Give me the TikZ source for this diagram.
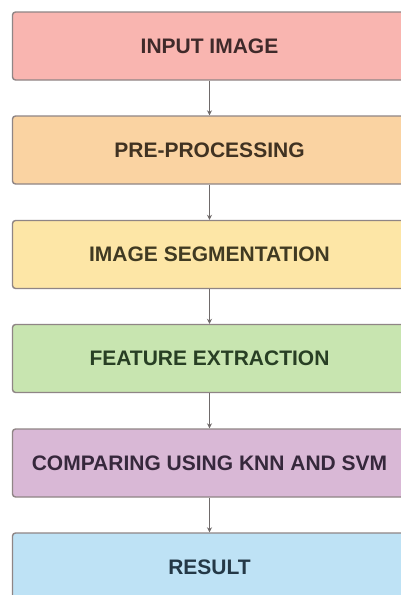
\documentclass[tikz,border=0pt]{standalone}
\usepackage{fontspec}
\setmainfont{Liberation Sans}
\usetikzlibrary{arrows.meta}
\definecolor{pinkfill}{HTML}{F9B5B0}
\definecolor{orangefill}{HTML}{FAD3A2}
\definecolor{yellowfill}{HTML}{FDE6A6}
\definecolor{greenfill}{HTML}{C8E5B0}
\definecolor{purplefill}{HTML}{D9B8D6}
\definecolor{bluefill}{HTML}{BEE2F5}
\definecolor{pinktext}{HTML}{3F2A2A}
\definecolor{orangetext}{HTML}{403222}
\definecolor{yellowtext}{HTML}{403A22}
\definecolor{greentext}{HTML}{283F24}
\definecolor{purpletext}{HTML}{36283C}
\definecolor{bluetext}{HTML}{243846}
\definecolor{edgegray}{HTML}{8F8585}
\definecolor{arrowgray}{HTML}{6F6A6A}
\tikzset{
  stagebox/.style={draw=edgegray, line width=1.4pt, rounded corners=3pt,
    minimum width=394pt, minimum height=68pt, inner sep=0pt,
    font=\fontsize{21pt}{24pt}\selectfont\bfseries},
  flow/.style={draw=arrowgray, line width=1.1pt,
    -{Stealth[length=5pt,width=5pt]}}
}
\begin{document}
\begin{tikzpicture}[x=1pt,y=-1pt]
  \useasboundingbox (0,0) rectangle (401,595);
  \fill[white] (0,0) rectangle (401,595);
  \clip (0,0) rectangle (401,595);
  \node[stagebox, fill=pinkfill, text=pinktext]     (b1) at (209.5,46)  {INPUT IMAGE};
  \node[stagebox, fill=orangefill, text=orangetext] (b2) at (209.5,150) {PRE-PROCESSING};
  \node[stagebox, fill=yellowfill, text=yellowtext] (b3) at (209.5,254.5) {IMAGE SEGMENTATION};
  \node[stagebox, fill=greenfill, text=greentext]   (b4) at (209.5,358.5) {FEATURE EXTRACTION};
  \node[stagebox, fill=purplefill, text=purpletext] (b5) at (209.5,463) {COMPARING USING KNN AND SVM};
  \node[stagebox, fill=bluefill, text=bluetext]     (b6) at (209.5,567) {RESULT};
  \draw[flow] (b1.south) -- (b2.north);
  \draw[flow] (b2.south) -- (b3.north);
  \draw[flow] (b3.south) -- (b4.north);
  \draw[flow] (b4.south) -- (b5.north);
  \draw[flow] (b5.south) -- (b6.north);
\end{tikzpicture}
\end{document}
